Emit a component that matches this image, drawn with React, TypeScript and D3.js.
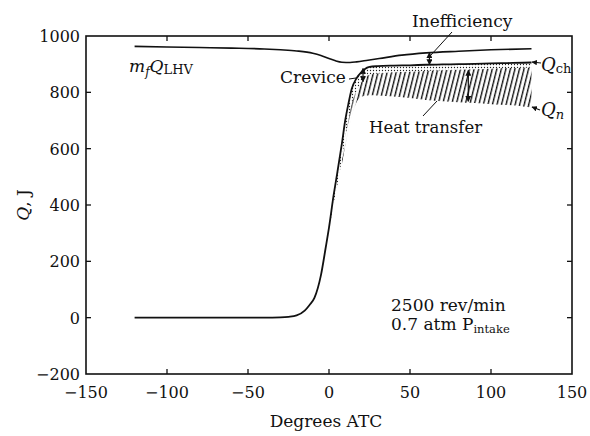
import React from "react";
import * as d3 from "d3";

// ---- data ----
const angles = [-120, -100, -80, -60, -40, -30, -25, -20, -15, -12, -9, -5, -2, 0, 3, 5, 8, 10, 12, 14, 17, 20, 22, 25, 30, 40, 50, 60, 70, 80, 90, 100, 110, 120, 125];
const qCh = [0, 0, 0, 0, 0, 1, 3, 8, 25, 45, 70, 150, 250, 320, 440, 510, 620, 700, 760, 812, 850, 872, 882, 890, 893, 895, 896, 898, 899, 900, 901, 903, 904, 905, 906];
const qCrev = [0, 0, 0, 0, 0, 1, 3, 8, 25, 45, 70, 150, 245, 310, 410, 465, 565, 640, 700, 757, 805, 834, 850, 862, 867, 871, 873, 876, 878, 880, 882, 884, 886, 887, 888];
const qN = [0, 0, 0, 0, 0, 1, 3, 8, 25, 45, 70, 150, 243, 305, 400, 452, 545, 610, 665, 715, 765, 784, 788, 790, 789, 785, 780, 773, 768, 765, 762, 758, 755, 750, 746];

const lhvAngles = [-120, -100, -80, -60, -40, -30, -20, -10, -5, 0, 4, 8, 13, 17, 24, 31, 45, 60, 80, 100, 125];
const qLhv = [963, 961, 959, 957, 954, 951, 947, 939, 931, 920, 912, 907, 906, 908, 914, 920, 932, 940, 946, 951, 955];

const xTicks = [-150, -100, -50, 0, 50, 100, 150];
const yTicks = [-200, 0, 200, 400, 600, 800, 1000];

const W = 590, H = 436;
const L = 86, R = 572, T = 36, B = 374;
const FONT = "'DejaVu Serif', 'Liberation Serif', serif";

export default function App() {
  const x = d3.scaleLinear().domain([-150, 150]).range([L, R]);
  const y = d3.scaleLinear().domain([-200, 1000]).range([B, T]);

  const pts = angles.map((a, i) => ({ a, ch: qCh[i], cr: qCrev[i], n: qN[i] }));
  const curve = d3.curveMonotoneX;
  const lineCh = d3.line<any>().x(d => x(d.a)).y(d => y(d.ch)).curve(curve);
  const areaCrev = d3.area<any>().x(d => x(d.a)).y0(d => y(d.cr)).y1(d => y(d.ch)).curve(curve);
  const areaHt = d3.area<any>().x(d => x(d.a)).y0(d => y(d.n)).y1(d => y(d.cr)).curve(curve);
  const lhvPts = lhvAngles.map((a, i) => ({ a, v: qLhv[i] }));
  const lineLhv = d3.line<any>().x(d => x(d.a)).y(d => y(d.v)).curve(d3.curveMonotoneX);

  const fmt = (v: number) => (v < 0 ? "\u2212" + Math.abs(v) : String(v));
  const tick = 5;

  return (
    <svg width={W} height={H} style={{ position: "absolute", left: 0, top: 0, background: "#fff" }} fontFamily={FONT}>
      <defs>
        <pattern id="dots" width="3" height="3" patternUnits="userSpaceOnUse">
          <circle cx="1.5" cy="1.5" r="0.65" fill="#222" />
        </pattern>
        <pattern id="hatch" width="4.4" height="10" patternUnits="userSpaceOnUse" patternTransform="rotate(14)">
          <line x1="1.5" y1="0" x2="1.5" y2="10" stroke="#111" strokeWidth="1.4" />
        </pattern>
        <marker id="ah" viewBox="0 0 10 10" refX="9" refY="5" markerWidth="5" markerHeight="5" orient="auto-start-reverse">
          <path d="M0,0 L10,5 L0,10 z" fill="#111" />
        </marker>
      </defs>

      {/* frame */}
      <rect x={L} y={T} width={R - L} height={B - T} fill="none" stroke="#111" strokeWidth={1.6} />
      {xTicks.slice(1, -1).map(v => (
        <g key={"xt" + v}>
          <line x1={x(v)} x2={x(v)} y1={B} y2={B - tick} stroke="#111" strokeWidth={1.3} />
          <line x1={x(v)} x2={x(v)} y1={T} y2={T + tick} stroke="#111" strokeWidth={1.3} />
        </g>
      ))}
      {yTicks.slice(1, -1).map(v => (
        <g key={"yt" + v}>
          <line x1={L} x2={L + tick} y1={y(v)} y2={y(v)} stroke="#111" strokeWidth={1.3} />
          <line x1={R} x2={R - tick} y1={y(v)} y2={y(v)} stroke="#111" strokeWidth={1.3} />
        </g>
      ))}
      {xTicks.map(v => (
        <text key={"xl" + v} x={x(v)} y={398} textAnchor="middle" fontSize={16} fill="#111">{fmt(v)}</text>
      ))}
      {yTicks.map(v => (
        <text key={"yl" + v} x={80} y={y(v) + 6} textAnchor="end" fontSize={16} fill="#111">{fmt(v)}</text>
      ))}
      <text x={326} y={427} textAnchor="middle" fontSize={17} fill="#111">Degrees ATC</text>
      <text transform="translate(29,205) rotate(-90)" textAnchor="middle" fontSize={17} fill="#111">
        <tspan fontStyle="italic">Q</tspan>, J
      </text>

      {/* bands */}
      <path d={areaHt(pts.filter(p => p.a >= 8)) || ""} fill="url(#hatch)" />
      <path d={areaCrev(pts.filter(p => p.a >= -5)) || ""} fill="url(#dots)" />

      {/* curves */}
      <path d={lineLhv(lhvPts) || ""} fill="none" stroke="#111" strokeWidth={1.6} />
      <path d={lineCh(pts) || ""} fill="none" stroke="#111" strokeWidth={1.8} />

      {/* annotations */}
      <text x={129} y={72} fontSize={17} fill="#111">
        <tspan fontStyle="italic">m</tspan>
        <tspan fontStyle="italic" fontSize={12} dy={4}>f</tspan>
        <tspan fontStyle="italic" dy={-4}>Q</tspan>
        <tspan fontSize={13} dy={2}>LHV</tspan>
      </text>

      <text x={412} y={27} fontSize={17} fill="#111">Inefficiency</text>
      <line x1={452} y1={32} x2={431} y2={55} stroke="#111" strokeWidth={1} />
      <line x1={x(62)} x2={x(62)} y1={y(941)} y2={y(898)} stroke="#111" strokeWidth={1.2} markerStart="url(#ah)" markerEnd="url(#ah)" />

      <text x={280} y={83} fontSize={17} fill="#111">Crevice</text>
      <line x1={349} y1={79} x2={356} y2={78} stroke="#111" strokeWidth={1} />
      <line x1={x(21)} x2={x(21)} y1={y(885)} y2={y(838)} stroke="#111" strokeWidth={1.2} markerStart="url(#ah)" markerEnd="url(#ah)" />

      <text x={369} y={133} fontSize={16.5} fill="#111">Heat transfer</text>
      <line x1={423} y1={116} x2={437} y2={101} stroke="#111" strokeWidth={1} />
      <line x1={x(86)} x2={x(86)} y1={y(878)} y2={y(768)} stroke="#111" strokeWidth={1.2} markerStart="url(#ah)" markerEnd="url(#ah)" />

      <line x1={541} y1={63} x2={532} y2={62} stroke="#111" strokeWidth={1.1} markerEnd="url(#ah)" />
      <text x={541} y={71} fontSize={18} fill="#111">
        <tspan fontStyle="italic">Q</tspan>
        <tspan fontSize={13} dy={2}>ch</tspan>
      </text>
      <line x1={540} y1={110} x2={532} y2={107} stroke="#111" strokeWidth={1.1} markerEnd="url(#ah)" />
      <text x={541} y={116} fontSize={18} fill="#111">
        <tspan fontStyle="italic">Q</tspan>
        <tspan fontStyle="italic" fontSize={13} dy={3}>n</tspan>
      </text>

      <text x={391} y={311} fontSize={17} fill="#111">2500 rev/min</text>
      <text x={391} y={330} fontSize={17} fill="#111">
        0.7 atm P<tspan fontSize={11.5} dy={3}>intake</tspan>
      </text>
    </svg>
  );
}
